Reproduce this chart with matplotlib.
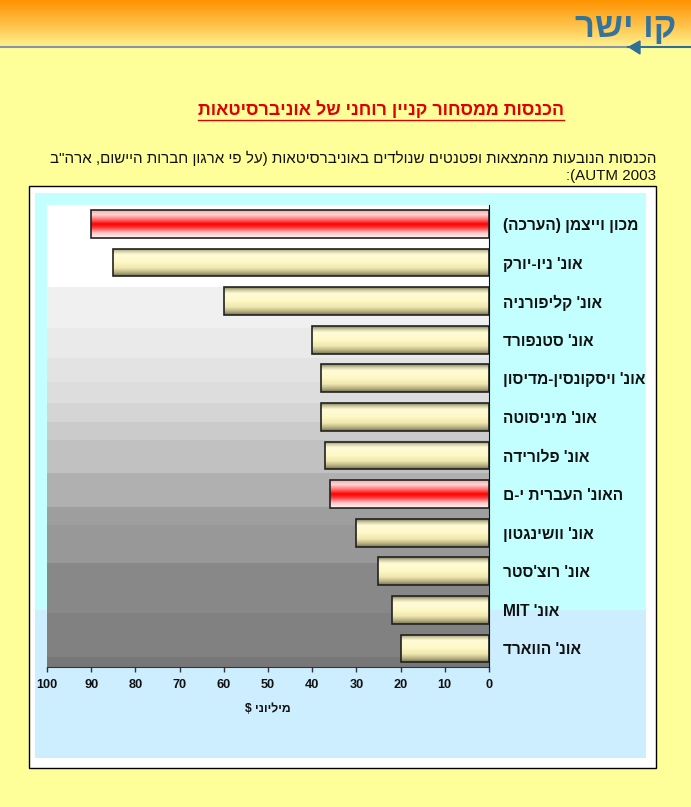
import re
import numpy as np
import matplotlib
matplotlib.use("Agg")
from matplotlib import pyplot as plt
from matplotlib.colors import LinearSegmentedColormap
from matplotlib.patches import Rectangle, Polygon
from matplotlib.lines import Line2D

# Data (millions of dollars)
universities = [
    "מכון וייצמן (הערכה)",
    "אונ' ניו-יורק",
    "אונ' קליפורניה",
    "אונ' סטנפורד",
    "אונ' ויסקונסין-מדיסון",
    "אונ' מיניסוטה",
    "אונ' פלורידה",
    "האונ' העברית י-ם",
    "אונ' וושינגטון",
    "אונ' רוצ'סטר",
    "אונ' MIT",
    "אונ' הווארד",
]
income = [90, 85, 60, 40, 38, 38, 37, 36, 30, 25, 22, 20]
highlighted = [True, False, False, False, False, False, False, True,
               False, False, False, False]
x_ticks = [100, 90, 80, 70, 60, 50, 40, 30, 20, 10, 0]

logo_text = "קו ישר"
title_text = "הכנסות ממסחור קניין רוחני של אוניברסיטאות"
subtitle_line1 = 'הכנסות הנובעות מהמצאות ופטנטים שנולדים באוניברסיטאות (על פי ארגון חברות היישום, ארה"ב'
subtitle_line2 = "AUTM 2003):"
x_label = "מיליוני $"

W, H = 691, 807
FONT = "Liberation Sans"


# vis()
# matplotlib has no bidi support, so put right-to-left text in visual order
def vis(s):
    r = s[::-1]
    r = r.translate(str.maketrans("()", ")("))
    return re.sub(r"[A-Za-z0-9]+(?:[ .]+[A-Za-z0-9]+)*", lambda m: m.group(0)[::-1], r)


# px_axes()
# add an axes given in pixel coordinates measured from the top left
def px_axes(fig, x, y, w, h, **kw):
    return fig.add_axes([x / W, 1 - (y + h) / H, w / W, h / H], **kw)


def fx(x):
    return x / W


def fy(y):
    return 1 - y / H


def main():
    fig = plt.figure(figsize=(W / 100, H / 100), dpi=100, facecolor="#ffff99")

    # Header band
    head = px_axes(fig, 0, 0, W, 46)
    head_cmap = LinearSegmentedColormap.from_list(
        "head", [(0, "#ff9400"), (0.55, "#ffc24a"), (1, "#fff08c")])
    head.imshow(np.linspace(0, 1, 60).reshape(-1, 1), cmap=head_cmap,
                aspect="auto", extent=(0, 1, 1, 0))
    head.set_axis_off()

    fig.add_artist(Line2D([0, fx(628)], [fy(47), fy(47)], color="#8796a4", lw=1.5))
    fig.add_artist(Line2D([fx(628), 1], [fy(47), fy(47)], color="#2f6f98", lw=1.5))
    fig.add_artist(Polygon([[fx(629), fy(47)], [fx(640), fy(41)], [fx(640), fy(54)]],
                           closed=True, color="#2f6f98"))
    fig.text(fx(676), fy(27), vis(logo_text), ha="right", va="center",
             fontsize=25, fontweight="bold", color="#33739c", family=FONT)

    # Title with underline
    title = fig.text(fx(381), fy(110), vis(title_text), ha="center", va="center",
                     fontsize=12.9, fontweight="bold", color="#dd0000", family=FONT)
    fig.canvas.draw()
    bb = title.get_window_extent()
    fig.add_artist(Line2D([bb.x0 / W, bb.x1 / W], [(bb.y0 - 1) / H, (bb.y0 - 1) / H],
                          color="#dd0000", lw=1))

    fig.text(fx(656), fy(158), vis(subtitle_line1), ha="right", va="center",
             fontsize=10.9, color="#111111", family=FONT)
    fig.text(fx(656), fy(176), vis(subtitle_line2), ha="right", va="center",
             fontsize=10.9, color="#111111", family=FONT)

    # Chart frame and light panels, kept behind the axes
    fig.add_artist(Rectangle((fx(29), fy(768)), (656 - 29) / W, (768 - 186) / H,
                             facecolor="white", edgecolor="black", lw=1, zorder=-3))
    fig.add_artist(Rectangle((fx(35), fy(610)), (646 - 35) / W, (610 - 193) / H,
                             facecolor="#c4ffff", edgecolor="none", zorder=-2))
    fig.add_artist(Rectangle((fx(35), fy(758)), (646 - 35) / W, (758 - 610) / H,
                             facecolor="#cdeeff", edgecolor="none", zorder=-2))

    # Bar chart
    ax = px_axes(fig, 47, 205, 442, 462)
    ax.set_facecolor("none")

    # stepped grey backdrop, top to bottom (pixel edge, grey level)
    bands = [(205, 1.0), (287, 0.94), (328, 0.915), (358, 0.89), (382, 0.865),
             (403, 0.835), (422, 0.795), (440, 0.755), (473, 0.69), (507, 0.62),
             (525, 0.595), (563, 0.535), (613, 0.505), (657, 0.465), (667, None)]
    rows = np.zeros((667 - 205, 1))
    for (y0, g), (y1, _) in zip(bands[:-1], bands[1:]):
        rows[y0 - 205:y1 - 205] = g
    ax.imshow(rows, cmap="gray", vmin=0, vmax=1, aspect="auto",
              extent=(0, 1, 0, 1), transform=ax.transAxes, zorder=0)

    y_pos = np.arange(len(universities))
    bar_h = 0.72
    cream = LinearSegmentedColormap.from_list(
        "cream", [(0, "#8a8660"), (0.1, "#cfcba0"), (0.22, "#fffbd8"),
                  (0.5, "#fff8c6"), (0.72, "#efe7ae"), (0.87, "#bdb585"),
                  (1, "#7c7856")])
    red = LinearSegmentedColormap.from_list(
        "red", [(0, "#ffa8a8"), (0.15, "#ffd6d6"), (0.35, "#ff6666"),
                (0.5, "#ff0000"), (0.63, "#ff3838"), (0.82, "#ffc4c4"),
                (1, "#fff2f2")])
    grad = np.linspace(0, 1, 40).reshape(-1, 1)

    bars = ax.barh(y_pos, income, height=bar_h, color="none",
                   edgecolor="#222222", linewidth=1.2, zorder=3)
    for bar, val, hot, y in zip(bars, income, highlighted, y_pos):
        im = ax.imshow(grad, cmap=red if hot else cream, aspect="auto",
                       extent=(0, val, y + bar_h / 2, y - bar_h / 2), zorder=2)
        im.set_clip_path(bar)

    ax.set_xlim(100, 0)
    ax.set_ylim(11.48, -0.49)

    ax.spines["top"].set_visible(False)
    ax.spines["left"].set_visible(False)
    ax.spines["right"].set_color("#111111")
    ax.spines["bottom"].set_color("#333333")
    ax.spines["right"].set_zorder(4)

    ax.set_xticks(x_ticks)
    ax.set_xticklabels([str(t) for t in x_ticks], fontsize=9.2,
                       fontweight="bold", family=FONT, color="#111111")
    ax.tick_params(axis="x", direction="out", length=3.5, width=1,
                   color="#333333", pad=5)

    ax.yaxis.tick_right()
    ax.set_yticks(y_pos)
    ax.set_yticklabels([vis(u) for u in universities], fontsize=11.2,
                       fontweight="bold", family=FONT, color="#111111")
    ax.tick_params(axis="y", length=0, pad=10)

    ax.set_xlabel(vis(x_label), fontsize=8.8, fontweight="bold",
                  family=FONT, color="#111111", labelpad=9)

    fig.savefig("out.png", dpi=100, facecolor=fig.get_facecolor())


if __name__ == "__main__":
    main()
